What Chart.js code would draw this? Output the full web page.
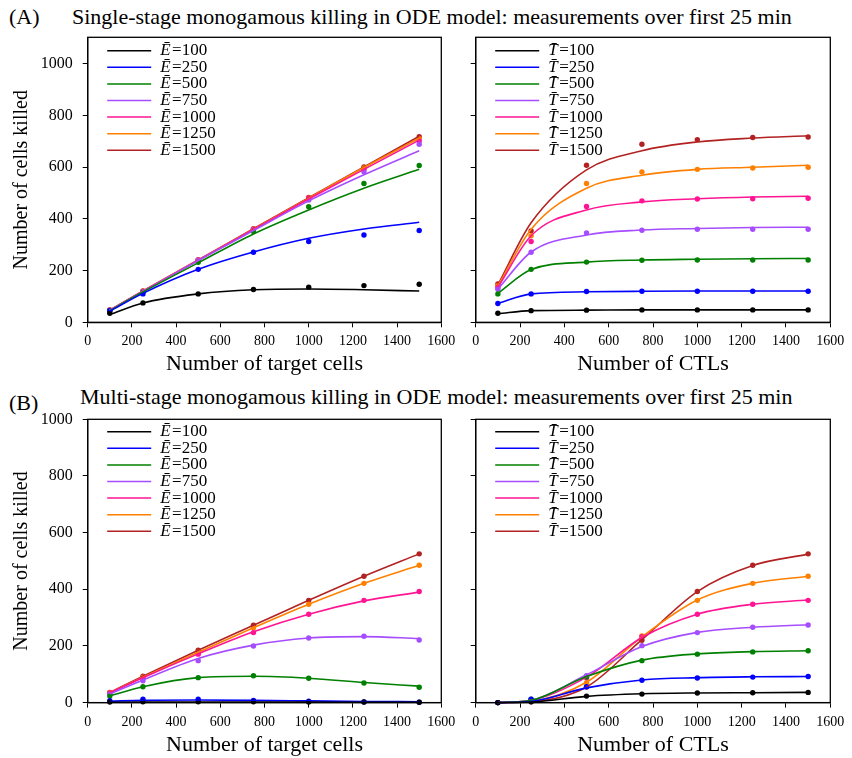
<!DOCTYPE html>
<html>
<head>
<meta charset="utf-8">
<script src="https://cdn.jsdelivr.net/npm/chart.js@4.4.0/dist/chart.umd.min.js"></script>
<style>
  body { margin: 0; background: #fff; width: 852px; height: 758px; overflow: hidden; position: relative; font-family: "Liberation Serif", serif; color: #000; }
  canvas { position: absolute; }
  .heading { position: absolute; font-size: 22px; white-space: nowrap; line-height: 24px; }
</style>
</head>
<body>
<div class="heading" style="left:9px; top:5px">(A)</div>
<div class="heading" style="left:72px; top:5px">Single-stage monogamous killing in ODE model: measurements over first 25 min</div>
<div class="heading" style="left:9px; top:391px">(B)</div>
<div class="heading" style="left:80px; top:385px">Multi-stage monogamous killing in ODE model: measurements over first 25 min</div>

<canvas id="aTargets" width="462" height="360" style="left:0; top:30px"></canvas>
<canvas id="aCtls" width="402" height="360" style="left:450px; top:30px"></canvas>
<canvas id="bTargets" width="462" height="348" style="left:0; top:410px"></canvas>
<canvas id="bCtls" width="402" height="348" style="left:450px; top:410px"></canvas>

<script>
const xValues = [100, 250, 500, 750, 1000, 1250, 1500];
const seriesLevels = [100, 250, 500, 750, 1000, 1250, 1500];
const seriesColors = ["#000000", "#0000ff", "#008000", "#a64dff", "#ff1493", "#ff8000", "#b22222"];
const xTicks = [0, 200, 400, 600, 800, 1000, 1200, 1400, 1600];
const yTicks = [0, 200, 400, 600, 800, 1000];

// (A) single-stage, x = target cells, one row per E level
const singleTargetPoints = [
  [35, 75, 110, 127, 136, 142, 147],
  [45, 110, 205, 271, 313, 338, 355],
  [46, 116, 232, 351, 447, 537, 607],
  [47, 118, 240, 357, 473, 583, 689],
  [47, 119, 241, 360, 480, 592, 702],
  [48, 120, 241, 361, 481, 597, 711],
  [48, 121, 241, 362, 483, 601, 718]
];
const singleTargetFit = [
  [30, 75, 110, 126, 129, 126, 121],
  [43, 112, 205, 272, 325, 361, 387],
  [45, 117, 230, 342, 435, 519, 592],
  [46, 119, 239, 355, 470, 571, 664],
  [47, 120, 240, 359, 477, 592, 705],
  [47, 120, 241, 360, 480, 599, 712],
  [47, 121, 241, 362, 482, 601, 720]
];

// (A) single-stage, x = CTLs, one row per T level
const singleCtlPoints = [
  [35, 45, 47, 48, 48, 48, 48],
  [73, 110, 119, 120, 120, 120, 120],
  [110, 205, 233, 240, 241, 241, 241],
  [128, 271, 346, 356, 360, 360, 360],
  [135, 313, 448, 470, 477, 478, 480],
  [142, 335, 537, 582, 592, 597, 600],
  [148, 354, 608, 689, 707, 715, 717]
];
const singleCtlFit = [
  [33, 45, 47, 48, 48, 48, 48],
  [73, 110, 118, 120, 121, 121, 121],
  [112, 204, 233, 241, 244, 246, 247],
  [128, 272, 338, 357, 363, 367, 368],
  [135, 335, 435, 466, 478, 485, 488],
  [140, 360, 519, 569, 592, 600, 608],
  [145, 385, 590, 664, 698, 713, 722]
];

// (B) multi-stage, x = target cells
const multiTargetPoints = [
  [2, 3, 3, 3, 2, 2, 1],
  [7, 12, 12, 8, 5, 2, 1],
  [23, 56, 88, 95, 86, 69, 54],
  [30, 77, 148, 200, 228, 234, 221],
  [34, 86, 171, 247, 312, 361, 392],
  [35, 90, 178, 264, 347, 421, 485],
  [36, 93, 185, 273, 361, 446, 525]
];
const multiTargetFit = [
  [1, 2, 2, 2, 2, 1, 1],
  [5, 8, 9, 8, 6, 4, 3],
  [24, 56, 88, 93, 86, 71, 58],
  [30, 80, 156, 203, 228, 233, 226],
  [34, 88, 172, 250, 312, 359, 390],
  [35, 90, 178, 264, 347, 421, 485],
  [36, 93, 185, 273, 361, 446, 525]
];

// (B) multi-stage, x = CTLs
const multiCtlPoints = [
  [0, 3, 23, 30, 34, 35, 36],
  [0, 12, 56, 79, 87, 90, 92],
  [0, 12, 90, 148, 171, 179, 183],
  [0, 10, 95, 201, 247, 266, 274],
  [0, 8, 88, 233, 312, 347, 361],
  [0, 5, 70, 235, 361, 421, 446],
  [0, 3, 55, 220, 392, 485, 525]
];
const multiCtlFit = [
  [0, 2, 22, 31, 34, 35, 36],
  [0, 4, 52, 80, 88, 91, 92],
  [0, 8, 92, 150, 172, 180, 183],
  [0, 8, 98, 198, 248, 266, 275],
  [0, 8, 90, 230, 312, 347, 362],
  [0, 5, 72, 232, 362, 421, 446],
  [0, 3, 55, 222, 392, 484, 524]
];

const FONT = '"Liberation Serif", serif';

const framePlugin = {
  id: "frame",
  afterDraw(chart) {
    const { ctx, chartArea: a } = chart;
    ctx.save();
    ctx.strokeStyle = "#000";
    ctx.lineWidth = 1.3;
    ctx.strokeRect(a.left, a.top, a.right - a.left, a.bottom - a.top);
    ctx.restore();
  }
};

const legendPlugin = {
  id: "panelLegend",
  afterDatasetsDraw(chart, args, o) {
    const { ctx, chartArea } = chart;
    ctx.save();
    seriesLevels.forEach((lv, i) => {
      const y = chartArea.top + o.top + i * 16.6;
      const x0 = chartArea.left + 19.5;
      ctx.strokeStyle = seriesColors[i];
      ctx.lineWidth = 1.5;
      ctx.beginPath();
      ctx.moveTo(x0, y);
      ctx.lineTo(x0 + 44, y);
      ctx.stroke();
      ctx.fillStyle = "#000";
      ctx.textBaseline = "middle";
      ctx.font = "italic 17px " + FONT;
      let tx = x0 + 53;
      ctx.fillText(o.letter, tx, y);
      tx += ctx.measureText(o.letter).width + 1.5;
      ctx.font = "17px " + FONT;
      ctx.fillText("=" + lv, tx, y);
    });
    ctx.restore();
  }
};

function makePanel(id, points, fit, opts) {
  const datasets = [];
  fit.forEach((ys, i) => {
    datasets.push({
      data: ys.map((y, j) => ({ x: xValues[j], y })),
      borderColor: seriesColors[i],
      borderWidth: 1.6,
      pointRadius: 0,
      cubicInterpolationMode: "monotone",
      fill: false,
      clip: false
    });
  });
  points.forEach((ys, i) => {
    datasets.push({
      data: ys.map((y, j) => ({ x: xValues[j], y })),
      showLine: false,
      pointRadius: 2.7,
      pointBorderWidth: 0,
      pointBackgroundColor: seriesColors[i],
      borderColor: seriesColors[i],
      clip: false
    });
  });

  new Chart(document.getElementById(id), {
    type: "line",
    data: { datasets },
    options: {
      responsive: false,
      animation: false,
      events: [],
      layout: { padding: { top: opts.padTop, right: opts.padRight, left: 0, bottom: 0 } },
      plugins: {
        legend: { display: false },
        tooltip: { enabled: false },
        panelLegend: { letter: opts.letter, top: opts.legendTop }
      },
      scales: {
        x: {
          type: "linear",
          min: 0,
          max: 1600,
          afterBuildTicks: s => { s.ticks = xTicks.map(v => ({ value: v })); },
          afterFit: s => { s.height = opts.xHeight; s.paddingLeft = 0; s.paddingRight = 0; },
          grid: { drawOnChartArea: false, tickLength: 5, color: "#000", tickWidth: 1 },
          border: { color: "#000", width: 1.3 },
          ticks: { color: "#000", font: { family: FONT, size: 14 }, padding: 6, maxRotation: 0, autoSkip: false, callback: v => String(v) },
          title: { display: true, text: opts.xTitle, color: "#000", font: { family: FONT, size: 22 }, padding: { top: 0, bottom: opts.xTitlePad } }
        },
        y: {
          min: 0,
          max: opts.yMax,
          afterBuildTicks: s => { s.ticks = yTicks.map(v => ({ value: v })); },
          afterFit: s => { s.width = opts.yWidth; s.paddingTop = 0; s.paddingBottom = 0; },
          grid: { drawOnChartArea: false, tickLength: 5, color: "#000", tickWidth: 1 },
          border: { color: "#000", width: 1.3 },
          ticks: { display: opts.yLabels, color: "#000", font: { family: FONT, size: 16 }, padding: 10, callback: v => String(v) },
          title: { display: opts.yLabels, text: "Number of cells killed", color: "#000", font: { family: FONT, size: 20 }, padding: { top: 10, bottom: 0 } }
        }
      }
    },
    plugins: [framePlugin, legendPlugin]
  });
}

makePanel("aTargets", singleTargetPoints, singleTargetFit, {
  letter: "\u0112", xTitle: "Number of target cells", yLabels: true, yWidth: 87.7, yMax: 1103,
  padTop: 7.3, padRight: 20.7, xHeight: 67.7, xTitlePad: 13, legendTop: 13.4
});
makePanel("aCtls", singleCtlPoints, singleCtlFit, {
  letter: "T\u0304", xTitle: "Number of CTLs", yLabels: false, yWidth: 25.7, yMax: 1103,
  padTop: 7.3, padRight: 21.7, xHeight: 67.7, xTitlePad: 13, legendTop: 13.4
});
makePanel("bTargets", multiTargetPoints, multiTargetFit, {
  letter: "\u0112", xTitle: "Number of target cells", yLabels: true, yWidth: 87.7, yMax: 1000,
  padTop: 9.3, padRight: 20.7, xHeight: 55.4, xTitlePad: 0, legendTop: 12.4
});
makePanel("bCtls", multiCtlPoints, multiCtlFit, {
  letter: "T\u0304", xTitle: "Number of CTLs", yLabels: false, yWidth: 25.7, yMax: 1000,
  padTop: 9.3, padRight: 21.7, xHeight: 55.4, xTitlePad: 0, legendTop: 12.4
});
</script>
</body>
</html>
